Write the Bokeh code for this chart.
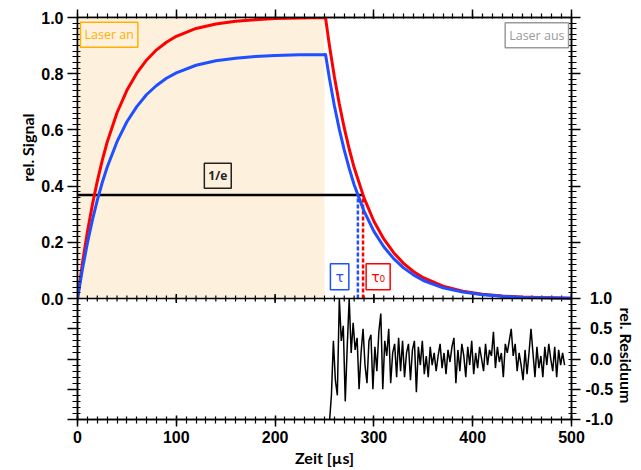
import math
from bokeh.plotting import figure
from bokeh.models import (Range1d, LinearAxis, FixedTicker, BoxAnnotation, Label, Span, Title,
                          CustomJSTickFormatter)
from bokeh.embed import file_html
from bokeh.resources import INLINE

# ---------------- data ----------------
laser_off = 250
inv_e = 0.368
t_tau = 283.8      # blue 1/e time
t_tau0 = 289.0     # red 1/e time

t_sig = [0, 5, 10, 15, 20, 25, 30, 40, 50, 60, 70, 80, 90, 100, 120, 140, 160, 180, 200, 225, 250,
         251, 255, 260, 265, 270, 275, 280, 290, 300, 310, 320, 330, 340, 350, 370, 390, 410, 430, 450, 475, 500]
sig_red = [0, 0.126, 0.237, 0.333, 0.417, 0.491, 0.556, 0.661, 0.741, 0.802, 0.849, 0.885, 0.912, 0.933,
           0.961, 0.977, 0.987, 0.992, 0.996, 0.998, 1.0,
           1.0, 0.900, 0.789, 0.692, 0.607, 0.532, 0.466, 0.358, 0.275, 0.212, 0.163, 0.125, 0.096, 0.074,
           0.044, 0.026, 0.015, 0.009, 0.005, 0.003, 0.001]
sig_blue = [0, 0.104, 0.197, 0.278, 0.349, 0.412, 0.467, 0.558, 0.629, 0.683, 0.726, 0.758, 0.784, 0.803,
            0.830, 0.846, 0.855, 0.861, 0.865, 0.867, 0.868,
            0.870, 0.783, 0.686, 0.602, 0.528, 0.463, 0.405, 0.311, 0.239, 0.184, 0.142, 0.109, 0.084, 0.064,
            0.038, 0.023, 0.013, 0.008, 0.004, 0.003, 0.001]

t_res = list(range(255, 495, 2))
residual = [-1.05, -0.6, 0.3, -0.35, -0.6, 1.0, 0.3, 0.55, -0.7, 0.2,
            1.0, 0.1, 0.6, 0.15, 0.35, -0.5, 0.1, 0.5, -0.1, -0.4,
            0.3, 0.4, -0.5, 0.2, -0.2, 0.45, 0.75, -0.5, 0.3, 0.05,
            0.5, -0.4, 0.1, 0.25, -0.3, 0.35, -0.2, 0.3, -0.3, 0.1,
            0.25, -0.35, 0.15, 0.3, -0.55, 0.2, -0.1, 0.3, -0.25, 0.05,
            -0.3, 0.2, -0.1, 0.1, -0.2, 0.05, 0.25, -0.15, 0.1, -0.25,
            0.15, -0.05, 0.2, 0.35, -0.4, 0.15, -0.2, 0.25, 0.05, -0.3,
            0.2, -0.1, 0.3, -0.25, 0.1, -0.15, 0.2, 0.0, -0.2, 0.25,
            -0.1, 0.15, 0.05, 0.45, -0.15, 0.2, -0.05, 0.1, -0.3, 0.25,
            0.1, 0.3, 0.5, 0.05, 0.25, -0.2, 0.1, -0.1, -0.35, 0.15,
            -0.25, 0.1, 0.5, 0.1, -0.3, 0.2, -0.15, 0.05, -0.3, 0.2,
            -0.1, 0.25, 0.0, -0.2, 0.2, -0.3, 0.15, -0.1, 0.1, -0.1]

x_major = [0, 100, 200, 300, 400, 500]
x_minor = [i * 10 for i in range(51)]
y_major = [0.0, 0.2, 0.4, 0.6, 0.8, 1.0]
y_minor = [i * 0.02 for i in range(51)]
r_major = [-1.0, -0.5, 0.0, 0.5, 1.0]
r_minor = [-1.0 + i * 0.1 for i in range(21)]

# ---------------- layout geometry (pixels) ----------------
TOP_H = 281   # signal panel height
RES_H = 121   # residual panel height
span_main = RES_H / TOP_H                 # residual panel height in signal units
res_end = 1 + 2 * TOP_H / RES_H           # residual units at frame top


def r2m(r):   # residual value -> signal-axis coordinate
    return (r - 1) / 2 * span_main


def m2r(v):   # signal value -> residual-axis coordinate
    return 1 + v * 2 / span_main


TICK_FONT = "Liberation Sans"
LABEL_FONT = "Lato"
RED = "#FF0000"
BLUE = "#1F4FFF"


def style(ax, mi, mo, ni, no, labels=True):
    ax.axis_line_color = "black"
    ax.axis_line_width = 1.5
    ax.major_tick_line_color = "black"
    ax.major_tick_line_width = 1.5
    ax.minor_tick_line_color = "black"
    ax.minor_tick_line_width = 1.2
    ax.major_tick_in = mi
    ax.major_tick_out = mo
    ax.minor_tick_in = ni
    ax.minor_tick_out = no
    ax.major_label_text_font = TICK_FONT
    ax.major_label_text_font_style = "bold"
    ax.major_label_text_color = "black"
    ax.axis_label_text_font = LABEL_FONT
    ax.axis_label_text_font_style = "bold"
    ax.axis_label_text_font_size = "15px"
    ax.axis_label_text_color = "black"
    if labels:
        ax.major_label_text_font_size = "16px"
    else:
        ax.major_label_text_font_size = "0px"
        ax.major_label_standoff = 0


p = figure(width=641, height=470, x_range=Range1d(0, 500), y_range=Range1d(r2m(-1), 1),
           output_backend="svg", toolbar_location=None,
           min_border_left=77, min_border_right=70, min_border_top=17, min_border_bottom=51)
p.extra_y_ranges = {"res": Range1d(-1, res_end)}
p.xgrid.visible = False
p.ygrid.visible = False
p.outline_line_color = "black"
p.outline_line_width = 1.5
p.background_fill_color = "white"
p.border_fill_color = "white"

# bottom x axis
bx = p.xaxis[0]
bx.ticker = FixedTicker(ticks=x_major, minor_ticks=x_minor)
bx.formatter = CustomJSTickFormatter(code="return tick.toFixed(0);")
bx.axis_label = "Zeit [µs]"
style(bx, 4, 7, 3, 4)
bx.axis_label_text_font_size = "16px"
bx.major_label_standoff = 4
bx.axis_label_standoff = 2

# left y axis (signal labels, residual ticks unlabeled)
ly = p.yaxis[0]
ly.ticker = FixedTicker(ticks=y_major + [r2m(r) for r in r_major[:-1]],
                        minor_ticks=y_minor + [r2m(r) for r in r_minor[:-1]])
ly.formatter = CustomJSTickFormatter(code="return tick < -0.001 ? '' : tick.toFixed(1);")
style(ly, 0, 10, 3, 5)
ly.major_label_standoff = 4

# top x axis (ticks only)
ax_top = LinearAxis(ticker=FixedTicker(ticks=x_major, minor_ticks=x_minor))
style(ax_top, 1, 8, 1, 4, labels=False)
p.add_layout(ax_top, "above")

# right y axis (residual labels, signal ticks unlabeled)
ry = LinearAxis(y_range_name="res",
                ticker=FixedTicker(ticks=r_major + [m2r(v) for v in y_major[1:]],
                                   minor_ticks=r_minor + [m2r(v) for v in y_minor[1:]]),
                formatter=CustomJSTickFormatter(
                    code="return tick > 1.001 ? '' : ((tick < -0.001 ? '' : '\\u00a0') + tick.toFixed(1));"))
style(ry, 0, 9, 3, 5)
ry.major_label_standoff = 5
p.add_layout(ry, "right")

# panel axis titles (outside the axes, positioned along each panel)
p.add_layout(Title(text="rel. Signal", align="right", offset=96, standoff=4,
                   text_font=LABEL_FONT, text_font_size="16px", text_font_style="bold",
                   text_color="black"), "left")
p.add_layout(Title(text="rel. Residuum", align="left", offset=290, standoff=0,
                   text_font=LABEL_FONT, text_font_size="16px", text_font_style="bold",
                   text_color="black"), "right")

# signal panel background (laser on)
p.add_layout(BoxAnnotation(left=0, right=laser_off, bottom=0, fill_color="#FDF1DE", fill_alpha=1.0,
                           line_color=None, level="underlay"))

# divider between panels with crossing ticks
p.add_layout(Span(location=0, dimension="width", line_color="black", line_width=1.5))
p.scatter(x=x_minor, y=[0] * len(x_minor), marker="dash", size=6, angle=math.pi / 2,
          line_color="black", line_width=1.2)
p.scatter(x=x_major, y=[0] * len(x_major), marker="dash", size=9, angle=math.pi / 2,
          line_color="black", line_width=1.5)

# 1/e construction
p.segment(x0=[0], y0=[inv_e], x1=[t_tau0], y1=[inv_e], line_color="black", line_width=2.5)
p.segment(x0=[t_tau], y0=[0], x1=[t_tau], y1=[inv_e], line_color=BLUE, line_width=2.5,
          line_dash="4 2")
p.segment(x0=[t_tau0], y0=[0], x1=[t_tau0], y1=[inv_e], line_color=RED, line_width=2.5,
          line_dash="4 2")

# signal curves
p.line(t_sig, sig_red, line_color=RED, line_width=3)
p.line(t_sig, sig_blue, line_color=BLUE, line_width=3)

# residual
p.line(t_res, residual, y_range_name="res", line_color="black", line_width=1.5)

# labels
p.add_layout(Label(x=3, y=0.983, text="Laser an", text_font="Open Sans", text_font_size="12.5px",
                   text_color="#FFB000", border_line_color="#FFB000", border_line_width=1.5,
                   padding=4, text_align="left", text_baseline="top"))
p.add_layout(Label(x=497, y=0.981, text="Laser aus", text_font="Open Sans", text_font_size="12.5px",
                   text_color="#9A9A9A", border_line_color="#9A9A9A", border_line_width=1.5,
                   padding=4, text_align="right", text_baseline="top"))
p.add_layout(Label(x=142, y=0.437, text="1/e", text_font="Open Sans", text_font_size="12px",
                   text_font_style="bold", text_color="#222222", border_line_color="#222222",
                   border_line_width=1.5, padding=4, text_align="center", text_baseline="middle"))
p.add_layout(Label(x=265.3, y=0.077, text="τ", text_font="DejaVu Sans", text_font_size="14px",
                   text_color=BLUE, border_line_color=BLUE, border_line_width=1.5,
                   padding=5, text_align="center", text_baseline="middle"))
p.add_layout(Label(x=304.3, y=0.077, text="τ₀", text_font="DejaVu Sans", text_font_size="14px",
                   text_color=RED, border_line_color=RED, border_line_width=1.5,
                   padding=5, text_align="center", text_baseline="middle"))

open("out.html", "w").write(file_html(p, INLINE))
